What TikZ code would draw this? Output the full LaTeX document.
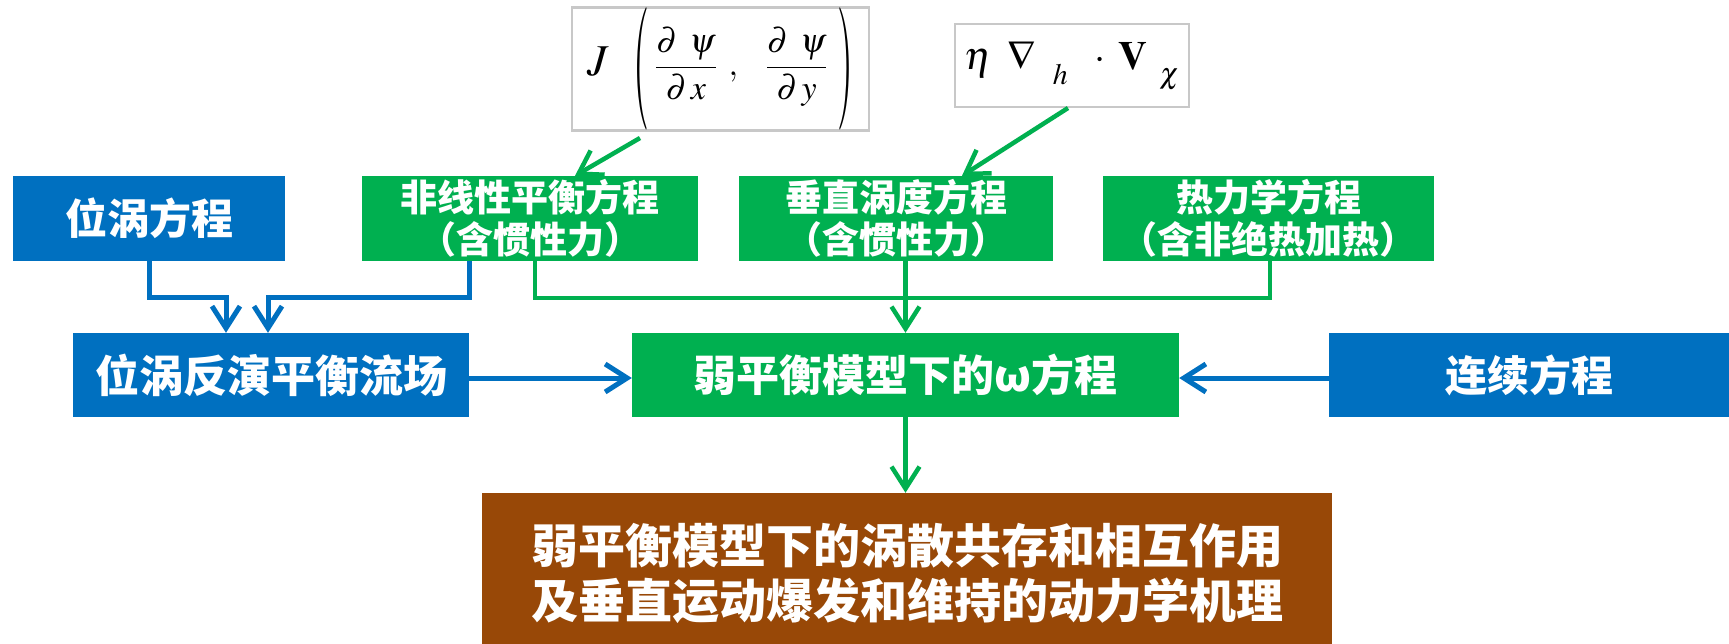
\documentclass[tikz,border=0pt]{standalone}
\usepackage{mathptmx}
\usepackage[no-math]{fontspec}
\usepackage{graphicx}
\newfontfamily\cjk{Noto Sans CJK SC}
\usetikzlibrary{arrows.meta}
\definecolor{pblue}{HTML}{0070C0}
\definecolor{pgreen}{HTML}{00B050}
\definecolor{pbrown}{HTML}{984807}
\definecolor{fgray}{HTML}{C8C8C8}
\newcommand{\bigparen}[1]{\raisebox{-24pt}{\scalebox{1.2}[3.6]{$#1$}}}
\tikzset{
  sz/.style 2 args={minimum width=#1pt, minimum height=#2pt},
  fbox/.style={draw=fgray, line width=2.5pt, fill=white, inner sep=0pt, text=black},
  bbox/.style={fill=pblue, text=white, inner sep=0pt, align=center,
    font=\cjk\bfseries\fontsize{42}{48}\selectfont},
  gbox/.style={fill=pgreen, text=white, inner sep=0pt, align=center,
    font=\cjk\bfseries\fontsize{37}{42}\selectfont},
  gboxbig/.style={fill=pgreen, text=white, inner sep=0pt, align=center,
    font=\cjk\bfseries\fontsize{43}{48}\selectfont},
  brbox/.style={fill=pbrown, text=white, inner sep=0pt, align=center,
    font=\cjk\bfseries\fontsize{47}{55}\selectfont},
  bline/.style={draw=pblue, line width=5pt},
  gline/.style={draw=pgreen, line width=4.5pt},
  barrow/.style={bline, -{Straight Barb[length=22pt,width=28pt]}},
  garrow/.style={gline, -{Straight Barb[length=22pt,width=28pt]}},
}
\begin{document}
\begin{tikzpicture}[x=1pt,y=-1pt]
\clip (0,0) rectangle (1729,644);
\fill[white] (0,0) rectangle (1729,644);
% formula boxes
\node[fbox, sz={297}{120}] (f1) at (720.5,69)
  {\fontsize{34}{40}\selectfont $\displaystyle \vrule height 68pt width 0pt\mbox{\fontsize{44}{50}\selectfont$J$}\hspace{24pt}\bigparen{(}\hspace{6pt}\frac{\partial\hspace{12pt}\psi}{\partial\hspace{4pt}x\vrule height 27pt width 0pt}\hspace{12pt},\hspace{24pt}\frac{\partial\hspace{12pt}\psi}{\partial\hspace{4pt}y\vrule height 27pt width 0pt}\hspace{10pt}\bigparen{)}$};
\node[fbox, sz={234}{83}] (f2) at (1072,65.5)
  {\fontsize{40}{44}\selectfont $\eta\hspace{15pt}\nabla\hspace{17pt}\raisebox{-15pt}{$\scriptstyle h$}\hspace{27pt}{\cdot}\hspace{13pt}\mathbf{V}\hspace{12pt}\raisebox{-14pt}{$\scriptstyle\chi$}$};
% top row
\node[bbox, sz={272}{85}] (pv) at (149,218.5) {位涡方程};
\node[gbox, sz={336}{85}] (nl) at (530,218.5) {非线性平衡方程\\（含惯性力）};
\node[gbox, sz={314}{85}] (vv) at (896,218.5) {垂直涡度方程\\（含惯性力）};
\node[gbox, sz={331}{85}] (th) at (1268.5,218.5) {热力学方程\\（含非绝热加热）};
% middle row
\node[bbox, sz={396}{84}, font=\cjk\bfseries\fontsize{44}{48}\selectfont] (inv) at (271,375) {位涡反演平衡流场};
\node[gboxbig, sz={547}{84}] (om) at (905.5,375) {弱平衡模型下的ω方程};
\node[bbox, sz={400}{84}] (ct) at (1529,375) {连续方程};
% bottom
\node[brbox, sz={850}{161}] (br) at (907,573.5)
  {弱平衡模型下的涡散共存和相互作用\\及垂直运动爆发和维持的动力学机理};
% coordinates
\coordinate (j1) at (226,298);
\coordinate (j2) at (268,298);
\coordinate (j3) at (469,298);
\coordinate (g1) at (535,298);
\coordinate (g2) at (1270,298);
\coordinate (a1) at (640,138);
\coordinate (t1) at (575,176);
\coordinate (a2) at (1068,108);
\coordinate (t2) at (962,176);
% connectors
\draw[barrow] (pv.south) |- (j1) -- (j1 |- inv.north);
\draw[barrow] (nl.south -| j3) -- (j3) -- (j2) -- (j2 |- inv.north);
\draw[gline] (nl.south -| g1) -- (g1) -- (g2) -- (th.south -| g2);
\draw[garrow] (vv.south -| om.north) -- (om.north);
\draw[garrow] (om.south) -- (br.north -| om.south);
\draw[barrow] ([yshift=-3pt]inv.east) -- ([yshift=-3pt]om.west);
\draw[barrow] ([yshift=-3pt]ct.west) -- ([yshift=-3pt]om.east);
\draw[garrow] (a1) -- (t1 |- nl.north);
\draw[garrow] (a2) -- (t2 |- vv.north);
\end{tikzpicture}
\end{document}
